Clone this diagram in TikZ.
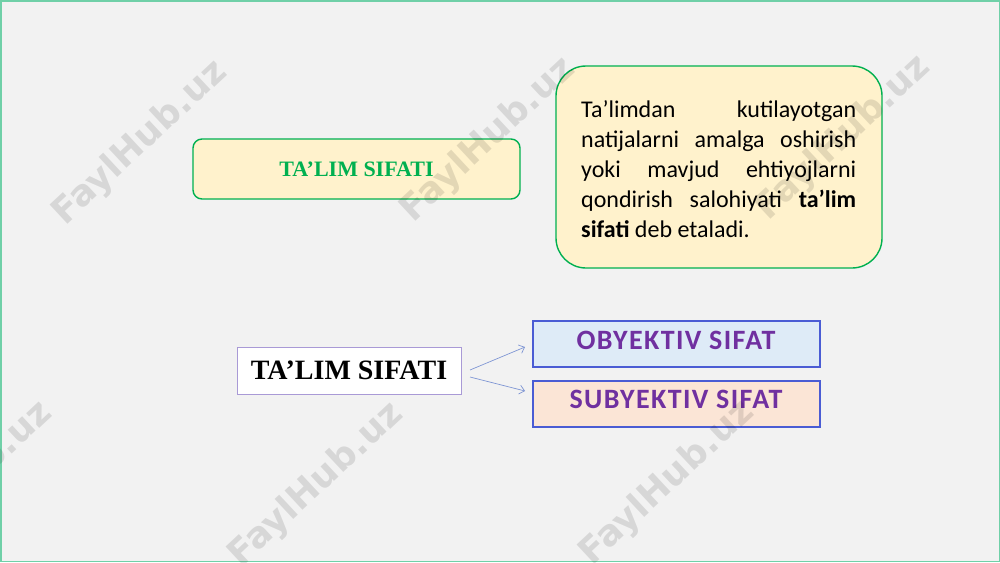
\documentclass[tikz,border=0pt]{standalone}
\usepackage{fontspec}
\setmainfont{Liberation Serif}
\newfontfamily\carlito{Carlito}
\newfontfamily\carlitosp[LetterSpace=5]{Carlito}
\newfontfamily\dejavu{DejaVu Sans}
\usetikzlibrary{arrows.meta}
\definecolor{bgc}{HTML}{F2F2F2}
\definecolor{framec}{HTML}{70D0A8}
\definecolor{greenc}{HTML}{00B050}
\definecolor{yellowc}{HTML}{FFF2CC}
\definecolor{bluefill}{HTML}{DEEBF7}
\definecolor{peachfill}{HTML}{FBE5D6}
\definecolor{bluec}{HTML}{4A5CD4}
\definecolor{lavc}{HTML}{A99AD6}
\definecolor{purplec}{HTML}{7030A0}
\definecolor{arrowc}{HTML}{7F96D4}
\tikzset{
  greenbox/.style={draw=greenc, fill=yellowc, line width=1.4pt, inner sep=0pt},
  typebox/.style={draw=bluec, line width=1.1pt, inner sep=0pt, minimum width=287pt, minimum height=46pt},
  typetext/.style={anchor=base, inner sep=0pt, text=purplec, font=\carlitosp\bfseries\fontsize{28}{30}\selectfont},
  link/.style={draw=arrowc, line width=0.7pt, -{Straight Barb[length=5pt,width=9pt]}},
  wmark/.style={text=black, opacity=0.11, rotate=43, font=\dejavu\bfseries\fontsize{36}{40}\selectfont, inner sep=0pt}
}
\begin{document}
\begin{tikzpicture}[x=1pt,y=-1pt]
\path[fill=bgc, draw=framec, line width=1.5pt] (0.75,0.75) rectangle (999.25,561.25);
\useasboundingbox (0,0) rectangle (1000,562);
% top-left box
\node[greenbox, rounded corners=9pt, minimum width=327pt, minimum height=60pt,
  text=greenc, font=\bfseries\fontsize{22}{26}\selectfont] (title) at (356.5,169) {TA’LIM SIFATI};
% definition box
\node[greenbox, rounded corners=30pt, minimum width=326pt, minimum height=202pt] (defbox) at (719,167) {};
\node[anchor=base west, inner sep=0pt] (deftext) at (581,117) {\parbox[t]{275pt}{\carlito\fontsize{24}{30}\selectfont
\tolerance=10000\hbadness=10000
Ta’limdan kutilayotgan\linebreak natijalarni amalga oshirish\linebreak yoki mavjud ehtiyojlarni\linebreak qondirish salohiyati \textbf{ta’lim}\linebreak \textbf{sifati} deb etaladi.}};
% main node
\node[draw=lavc, fill=white, line width=0.9pt, minimum width=224pt, minimum height=47pt, inner sep=0pt,
  font=\bfseries\fontsize{28}{32}\selectfont] (main) at (349,370.5) {TA’LIM SIFATI};
% type boxes
\node[typebox, fill=bluefill] (obj) at (676.5,344) {};
\node[typetext] (objt) at (676,349.5) {OBYEKTIV SIFAT};
\node[typebox, fill=peachfill] (subj) at (676.5,404) {};
\node[typetext] (subjt) at (676,408.5) {SUBYEKTIV SIFAT};
% arrows
\coordinate (s1) at (470,370);
\coordinate (s2) at (470,377);
\coordinate (e1) at (525,347);
\coordinate (e2) at (525,391);
\draw[link] (s1) -- (e1);
\draw[link] (s2) -- (e2);
% watermarks
\node[wmark] (w1) at (140,143) {FaylHub.uz};
\node[wmark] (w2) at (488,140) {FaylHub.uz};
\node[wmark] (w3) at (843,138) {FaylHub.uz};
\node[wmark] (w4) at (-35,484) {FaylHub.uz};
\node[wmark] (w5) at (316,485) {FaylHub.uz};
\node[wmark] (w6) at (667,483) {FaylHub.uz};
\end{tikzpicture}
\end{document}
